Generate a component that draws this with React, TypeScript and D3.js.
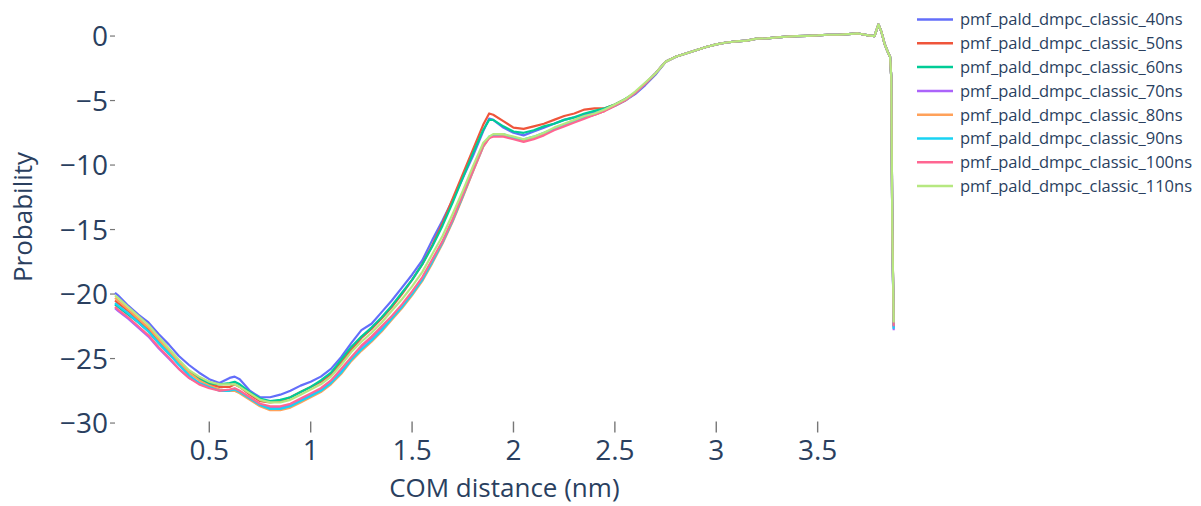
import React from 'react';
import * as d3 from 'd3';

const SERIES_NAMES = [
  'pmf_pald_dmpc_classic_40ns',
  'pmf_pald_dmpc_classic_50ns',
  'pmf_pald_dmpc_classic_60ns',
  'pmf_pald_dmpc_classic_70ns',
  'pmf_pald_dmpc_classic_80ns',
  'pmf_pald_dmpc_classic_90ns',
  'pmf_pald_dmpc_classic_100ns',
  'pmf_pald_dmpc_classic_110ns',
];
const COLORS = ['#636efa', '#EF553B', '#00cc96', '#ab63fa', '#FFA15A', '#19d3f3', '#FF6692', '#B6E880'];

const X_HEAD = [0.035, 0.05, 0.1, 0.15, 0.2, 0.25, 0.3, 0.35, 0.4, 0.45, 0.5, 0.55, 0.6, 0.625, 0.65, 0.7, 0.75, 0.8, 0.85, 0.9, 0.95, 1.0, 1.05, 1.1, 1.15, 1.2, 1.25, 1.3, 1.35, 1.4, 1.45, 1.5, 1.55, 1.6, 1.65, 1.7, 1.75, 1.8, 1.85, 1.88, 1.9, 1.95, 2.0, 2.05, 2.1, 2.15, 2.2, 2.25, 2.3, 2.35, 2.4, 2.45, 2.5, 2.55, 2.6, 2.65, 2.7];

const Y_40 = [-19.9, -20.1, -20.9, -21.6, -22.2, -23.1, -23.9, -24.8, -25.5, -26.1, -26.6, -26.9, -26.5, -26.4, -26.6, -27.5, -28.0, -28.0, -27.8, -27.5, -27.1, -26.8, -26.4, -25.8, -24.9, -23.8, -22.8, -22.3, -21.4, -20.5, -19.5, -18.5, -17.4, -15.8, -14.3, -12.7, -11.0, -9.3, -7.4, -6.4, -6.5, -7.1, -7.5, -7.7, -7.4, -7.1, -6.8, -6.5, -6.3, -6.1, -5.9, -5.7, -5.4, -5.0, -4.5, -3.8, -3.0];
const Y_50 = [-20.5, -20.7, -21.3, -22.0, -22.7, -23.6, -24.4, -25.3, -26.0, -26.5, -27.0, -27.2, -27.2, -27.0, -27.2, -27.8, -28.3, -28.4, -28.3, -28.0, -27.6, -27.2, -26.8, -26.2, -25.3, -24.3, -23.4, -22.7, -21.9, -21.0, -20.0, -18.9, -17.7, -16.2, -14.5, -12.6, -10.7, -8.8, -6.9, -6.0, -6.1, -6.6, -7.1, -7.2, -7.0, -6.8, -6.5, -6.2, -6.0, -5.7, -5.6, -5.6, -5.3, -4.9, -4.4, -3.7, -2.9];
const Y_60 = [-20.8, -21.0, -21.6, -22.2, -22.9, -23.8, -24.6, -25.4, -26.1, -26.6, -26.9, -27.0, -26.9, -26.8, -27.0, -27.6, -28.1, -28.3, -28.2, -28.0, -27.6, -27.2, -26.7, -26.1, -25.1, -24.1, -23.3, -22.6, -21.8, -20.9, -19.9, -18.9, -17.7, -16.3, -14.7, -12.9, -11.0, -9.1, -7.3, -6.5, -6.5, -7.0, -7.4, -7.5, -7.3, -7.0, -6.8, -6.5, -6.3, -6.0, -5.8, -5.6, -5.3, -4.9, -4.4, -3.7, -2.9];
const Y_70 = [-21.1, -21.3, -21.9, -22.6, -23.3, -24.2, -25.0, -25.8, -26.5, -26.9, -27.2, -27.4, -27.5, -27.5, -27.6, -28.1, -28.6, -28.8, -28.8, -28.6, -28.2, -27.8, -27.4, -26.8, -25.9, -25.0, -24.1, -23.4, -22.6, -21.8, -20.9, -19.9, -18.8, -17.4, -16.0, -14.3, -12.4, -10.5, -8.6, -7.9, -7.7, -7.7, -7.9, -8.1, -7.9, -7.6, -7.2, -6.9, -6.6, -6.3, -6.1, -5.8, -5.4, -5.0, -4.4, -3.7, -2.9];
const Y_80 = [-20.3, -20.5, -21.2, -21.9, -22.6, -23.5, -24.4, -25.3, -26.1, -26.7, -27.1, -27.4, -27.5, -27.5, -27.7, -28.2, -28.7, -29.0, -29.0, -28.8, -28.4, -28.0, -27.6, -27.0, -26.2, -25.2, -24.4, -23.7, -22.9, -22.0, -21.1, -20.1, -19.0, -17.6, -16.1, -14.4, -12.5, -10.5, -8.6, -7.9, -7.7, -7.7, -7.9, -8.1, -7.9, -7.6, -7.2, -6.9, -6.6, -6.3, -6.1, -5.8, -5.4, -5.0, -4.4, -3.7, -2.9];
const Y_90 = [-20.7, -20.9, -21.5, -22.2, -22.9, -23.8, -24.6, -25.5, -26.3, -26.9, -27.2, -27.5, -27.5, -27.4, -27.6, -28.1, -28.6, -28.9, -28.9, -28.7, -28.3, -27.9, -27.5, -26.9, -26.1, -25.1, -24.3, -23.6, -22.8, -21.9, -21.0, -20.0, -18.9, -17.5, -16.0, -14.3, -12.4, -10.4, -8.5, -7.8, -7.7, -7.6, -7.9, -8.0, -7.8, -7.5, -7.2, -6.9, -6.6, -6.3, -6.0, -5.7, -5.4, -5.0, -4.4, -3.7, -2.9];
const Y_100 = [-21.0, -21.2, -21.8, -22.5, -23.2, -24.1, -24.9, -25.8, -26.5, -27.0, -27.3, -27.5, -27.4, -27.3, -27.5, -28.0, -28.5, -28.7, -28.7, -28.5, -28.1, -27.7, -27.3, -26.7, -25.8, -24.9, -24.0, -23.3, -22.5, -21.7, -20.8, -19.8, -18.7, -17.3, -15.9, -14.2, -12.3, -10.4, -8.5, -7.9, -7.8, -7.8, -8.0, -8.2, -8.0, -7.7, -7.3, -7.0, -6.7, -6.4, -6.1, -5.8, -5.4, -5.0, -4.4, -3.7, -2.9];
const Y_110 = [-20.1, -20.3, -21.0, -21.7, -22.4, -23.3, -24.2, -25.1, -25.9, -26.4, -26.8, -27.0, -27.0, -27.0, -27.2, -27.7, -28.2, -28.4, -28.4, -28.2, -27.8, -27.4, -27.0, -26.4, -25.5, -24.5, -23.7, -23.0, -22.2, -21.3, -20.4, -19.4, -18.3, -16.9, -15.5, -13.8, -12.0, -10.1, -8.3, -7.8, -7.6, -7.6, -7.8, -8.0, -7.8, -7.5, -7.1, -6.8, -6.5, -6.2, -6.0, -5.7, -5.3, -4.9, -4.3, -3.6, -2.9];

const X_TAIL = [2.75, 2.8, 2.85, 2.9, 2.95, 3.0, 3.05, 3.1, 3.15, 3.2, 3.25, 3.3, 3.35, 3.4, 3.45, 3.5, 3.55, 3.6, 3.65, 3.7, 3.75, 3.78, 3.8, 3.815, 3.83, 3.845, 3.857, 3.863, 3.868, 3.875];
const Y_TAIL = [-2.0, -1.6, -1.35, -1.1, -0.85, -0.65, -0.5, -0.42, -0.35, -0.2, -0.18, -0.1, -0.05, 0.0, 0.02, 0.05, 0.1, 0.1, 0.15, 0.2, 0.05, 0.0, 0.9, 0.3, -0.6, -1.2, -1.6, -3.2, -14.8];
const Y_END = [-22.6, -22.3, -22.5, -22.8, -22.4, -22.7, -22.5, -22.2];

const X_TICKS = [0.5, 1, 1.5, 2, 2.5, 3, 3.5];
const Y_TICKS = [0, -5, -10, -15, -20, -25, -30];
const Y_RANGE = [-30.5, 2.43];

const HEADS = [Y_40, Y_50, Y_60, Y_70, Y_80, Y_90, Y_100, Y_110];

const FONT = '"Open Sans", verdana, arial, sans-serif';
const TEXT_COLOR = '#2a3f5f';

export default function App() {
  const W = 1201, H = 506;
  const plot = { left: 115, right: 893.7, top: 4.7, bottom: 429.5 };
  const xAll = [...X_HEAD, ...X_TAIL];
  const x = d3.scaleLinear().domain([d3.min(xAll)!, d3.max(xAll)!]).range([plot.left, plot.right]);
  const y = d3.scaleLinear().domain(Y_RANGE).range([plot.bottom, plot.top]);

  const series = HEADS.map((head, i) => {
    const ys = [...head, ...Y_TAIL, Y_END[i]];
    return xAll.map((xv, j) => [xv, ys[j]] as [number, number]);
  });

  const line = d3.line<[number, number]>().x(d => x(d[0])).y(d => y(d[1]));

  const fmt = (v: number) => (v < 0 ? '\u2212' + String(Math.abs(v)) : String(v));

  const legendX = 917, legendY0 = 19.5, legendStep = 23.8;

  return (
    <svg width={W} height={H} style={{ position: 'absolute', left: 0, top: 0, background: '#fff' }} fontFamily={FONT}>
      <rect x={0} y={0} width={W} height={H} fill="#fff" />
      {Y_TICKS.map(t => (
        <g key={'yt' + t}>
          <line x1={plot.left - 5} x2={plot.left} y1={y(t)} y2={y(t)} stroke="#777" strokeWidth={1.2} />
          <text x={plot.left - 7} y={y(t)} dy="0.36em" textAnchor="end" fontSize={28} fill={TEXT_COLOR}>{fmt(t)}</text>
        </g>
      ))}
      {X_TICKS.map(t => (
        <g key={'xt' + t}>
          <line x1={x(t)} x2={x(t)} y1={plot.bottom - 8} y2={plot.bottom + 3} stroke="#777" strokeWidth={1.4} />
          <text x={x(t)} y={459.5} textAnchor="middle" fontSize={28} fill={TEXT_COLOR}>{String(t)}</text>
        </g>
      ))}
      <text x={(plot.left + plot.right) / 2} y={497} textAnchor="middle" fontSize={26} fill={TEXT_COLOR}>COM distance (nm)</text>
      <text transform={`translate(32,217) rotate(-90)`} textAnchor="middle" fontSize={26} fill={TEXT_COLOR}>Probability</text>
      <g>
        {series.map((s, i) => (
          <path key={SERIES_NAMES[i]} d={line(s) || ''} fill="none" stroke={COLORS[i]} strokeWidth={2.2} strokeLinejoin="round" />
        ))}
      </g>
      {SERIES_NAMES.map((n, i) => (
        <g key={'lg' + n} transform={`translate(${legendX},${legendY0 + i * legendStep})`}>
          <line x1={0} x2={36} y1={0} y2={0} stroke={COLORS[i]} strokeWidth={2.5} />
          <text x={43} y={0} dy="0.36em" fontSize={16.5} fill={TEXT_COLOR}>{n}</text>
        </g>
      ))}
    </svg>
  );
}
